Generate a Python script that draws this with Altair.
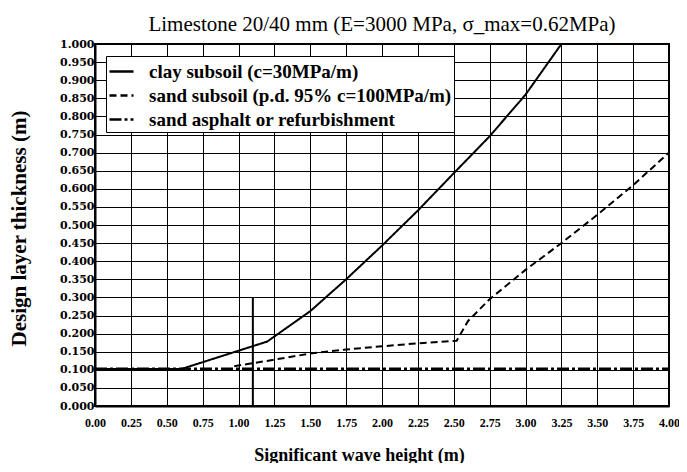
import altair as alt
import pandas as pd

# ---- data ----
CLAY = "clay subsoil (c=30MPa/m)"
SAND = "sand subsoil (p.d. 95% c=100MPa/m)"
ASPH = "sand asphalt or refurbishment"

clay_x = [0.0, 0.6, 1.2, 1.5, 1.75, 2.0, 2.25, 2.5, 2.75, 3.0, 3.25]
clay_y = [0.102, 0.102, 0.178, 0.262, 0.35, 0.443, 0.54, 0.643, 0.745, 0.86, 1.0]

sand_x = [0.97, 1.25, 1.5, 1.75, 2.0, 2.25, 2.52, 2.6, 2.75, 3.0, 3.25, 3.5, 3.75, 4.0]
sand_y = [0.11, 0.128, 0.145, 0.156, 0.165, 0.173, 0.18, 0.235, 0.295, 0.376, 0.45, 0.528, 0.61, 0.70]

asph_x = [0.0, 4.0]
asph_y = [0.102, 0.102]

marker_x = [1.1]
marker_y0 = [0.0]
marker_y1 = [0.3]

x_ticks = [0, 0.25, 0.5, 0.75, 1.0, 1.25, 1.5, 1.75, 2.0, 2.25, 2.5, 2.75, 3.0, 3.25, 3.5, 3.75, 4.0]
y_ticks = [0, 0.05, 0.1, 0.15, 0.2, 0.25, 0.3, 0.35, 0.4, 0.45, 0.5, 0.55, 0.6, 0.65, 0.7,
           0.75, 0.8, 0.85, 0.9, 0.95, 1.0]

series_order = [CLAY, SAND, ASPH]

rows = []
for xs, ys, name in [(clay_x, clay_y, CLAY), (sand_x, sand_y, SAND), (asph_x, asph_y, ASPH)]:
    for a, b in zip(xs, ys):
        rows.append({"h": a, "t": b, "s": name})
df = pd.DataFrame(rows)
vdf = pd.DataFrame({"h": marker_x, "t": marker_y0, "t2": marker_y1})

SERIF = "Liberation Serif"

xaxis = alt.Axis(
    values=x_ticks, format=".2f", title="Significant wave height (m)",
    labelFont=SERIF, labelFontSize=12, labelFontWeight="bold", labelPadding=11,
    labelOverlap=False, labelFlush=False, tickCount=17,
    titleFont=SERIF, titleFontSize=18, titleFontWeight="bold",
    titleX=264, titleY=49, titleBaseline="middle", titleAlign="center",
)
yaxis = alt.Axis(
    values=y_ticks, format=".3f", title="Design layer thickness (m)",
    labelFont="DejaVu Serif", labelFontSize=11, labelFontWeight="bold", labelPadding=1,
    labelOverlap=False, labelFlush=False, tickCount=21,
    titleFont=SERIF, titleFontSize=21, titleFontWeight="bold",
    titleX=-76, titleY=184, titleBaseline="middle", titleAlign="center", titleAngle=270,
)
xscale = alt.Scale(domain=[0, 4], nice=False)
yscale = alt.Scale(domain=[0, 1], nice=False)

dash = alt.StrokeDash(
    "s:N",
    scale=alt.Scale(domain=series_order, range=[[1, 0], [7, 4], [12, 3, 3, 3]]),
    legend=alt.Legend(
        title=None, orient="none", legendX=11, legendY=12,
        fillColor="white", strokeColor="black", padding=2,
        symbolType="stroke", symbolStrokeColor="black", symbolStrokeWidth=2.5,
        symbolSize=576, rowPadding=0, labelOffset=14,
        labelFont=SERIF, labelFontSize=19, labelFontWeight="bold", labelLimit=600,
        labelColor="black",
    ),
)

base = alt.Chart(df)
thin = base.transform_filter(alt.datum.s != ASPH).mark_line(color="black", strokeWidth=2).encode(
    x=alt.X("h:Q", scale=xscale, axis=xaxis),
    y=alt.Y("t:Q", scale=yscale, axis=yaxis),
    strokeDash=dash,
)
thick = base.transform_filter(alt.datum.s == ASPH).mark_line(color="black", strokeWidth=3).encode(
    x=alt.X("h:Q", scale=xscale, axis=xaxis),
    y=alt.Y("t:Q", scale=yscale, axis=yaxis),
    strokeDash=dash,
)
marker = alt.Chart(vdf).mark_rule(color="black", strokeWidth=2).encode(
    x=alt.X("h:Q", scale=xscale, axis=xaxis),
    y=alt.Y("t:Q", scale=yscale, axis=yaxis),
    y2="t2:Q",
)

chart = (
    alt.layer(thin, thick, marker)
    .properties(
        width=574, height=362,
        title=alt.TitleParams(
            "Limestone 20/40 mm (E=3000 MPa, σ_max=0.62MPa)",
            font=SERIF, fontSize=21, fontWeight="normal", color="black",
            offset=3,
        ),
        padding={"left": 87, "top": 36, "right": 10, "bottom": 57},
        autosize=alt.AutoSizeParams(type="none"),
        background="white",
    )
    .configure_view(stroke="black", strokeWidth=2)
    .configure_axis(
        grid=True, gridColor="black", gridOpacity=1, gridWidth=1,
        domainColor="black", domainWidth=2, ticks=False,
        labelColor="black", titleColor="black",
    )
)

chart.save("out.html", embed_options={"renderer": "svg", "actions": False})
